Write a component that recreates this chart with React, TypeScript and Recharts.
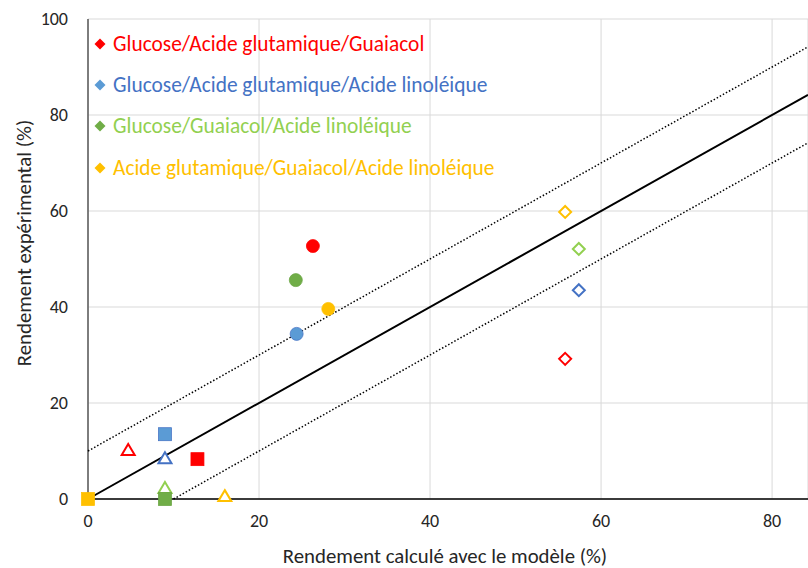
import React from 'react';
import { ScatterChart, Scatter, XAxis, YAxis, CartesianGrid, Legend, Label } from 'recharts';

// Marker kind of each point, in order
const markerKinds = ['triangle', 'square', 'circle', 'diamond'];

const seriesNames = [
  'Glucose/Acide glutamique/Guaiacol',
  'Glucose/Acide glutamique/Acide linoléique',
  'Glucose/Guaiacol/Acide linoléique',
  'Acide glutamique/Guaiacol/Acide linoléique',
];

// Rendement calculé (x) / expérimental (y)
const redX = [4.7, 12.8, 26.3, 55.8];
const redY = [10.2, 8.3, 52.7, 29.2];
const blueX = [9.0, 9.0, 24.4, 57.4];
const blueY = [8.5, 13.5, 34.4, 43.5];
const greenX = [9.0, 9.0, 24.3, 57.4];
const greenY = [2.3, 0, 45.6, 52.1];
const yellowX = [16.0, 0, 28.1, 55.8];
const yellowY = [0.6, 0, 39.6, 59.8];

// Reference lines y = x, y = x + 10, y = x - 10
const diagonal = [{ x: 0, y: 0 }, { x: 84.2, y: 84.2 }];
const upperBand = [{ x: 0, y: 10 }, { x: 84.2, y: 94.2 }];
const lowerBand = [{ x: 10, y: 0 }, { x: 84.2, y: 74.2 }];

const xTicks = [0, 20, 40, 60, 80];
const yTicks = [0, 20, 40, 60, 80, 100];

const FONT = 'Carlito, Lato, "Open Sans", sans-serif';

type Palette = { hollow: string; fill: string; edge: string; legend: string; text: string };

const palettes: Palette[] = [
  { hollow: '#FF0000', fill: '#FF0000', edge: '#FF0000', legend: '#FF0000', text: '#FF0000' },
  { hollow: '#4472C4', fill: '#5B9BD5', edge: '#4472C4', legend: '#5B9BD5', text: '#4472C4' },
  { hollow: '#92D050', fill: '#70AD47', edge: '#6AA443', legend: '#70AD47', text: '#92D050' },
  { hollow: '#FFC000', fill: '#FFC000', edge: '#FFC000', legend: '#FFC000', text: '#FFC000' },
];

const build = (xs: number[], ys: number[]) =>
  xs.map((x, i) => ({ x, y: ys[i], kind: markerKinds[i] }));

const seriesData = [
  build(redX, redY),
  build(blueX, blueY),
  build(greenX, greenY),
  build(yellowX, yellowY),
];

const makeShape = (p: Palette) => (props: any) => {
  const { cx, cy, payload } = props;
  if (cx == null || cy == null) return <g />;
  switch (payload.kind) {
    case 'triangle':
      return (
        <polygon
          points={`${cx},${cy - 6} ${cx + 6.5},${cy + 5} ${cx - 6.5},${cy + 5}`}
          fill="#fff"
          stroke={p.hollow}
          strokeWidth={2}
        />
      );
    case 'square':
      return <rect x={cx - 6.5} y={cy - 6.5} width={13} height={13} fill={p.fill} stroke={p.edge} strokeWidth={0.75} />;
    case 'circle':
      return <circle cx={cx} cy={cy} r={6.5} fill={p.fill} stroke={p.edge} strokeWidth={0.75} />;
    default:
      return (
        <polygon
          points={`${cx},${cy - 6} ${cx + 6},${cy} ${cx},${cy + 6} ${cx - 6},${cy}`}
          fill="#fff"
          stroke={p.hollow}
          strokeWidth={2}
        />
      );
  }
};

const emptyShape = () => <g />;

const LegendContent = () => (
  <div style={{ fontFamily: FONT, fontSize: 21.4 }}>
    {seriesNames.map((name, i) => (
      <div key={name} style={{ display: 'flex', alignItems: 'center', height: 41.3, whiteSpace: 'nowrap' }}>
        <svg width={12} height={12} style={{ marginRight: 7 }}>
          <polygon points="6,0.5 11.5,6 6,11.5 0.5,6" fill={palettes[i].legend} />
        </svg>
        <span style={{ color: palettes[i].text }}>{name}</span>
      </div>
    ))}
  </div>
);

export default function App() {
  return (
    <div style={{ position: 'absolute', left: 0, top: 0 }}>
      <ScatterChart width={808} height={568} margin={{ top: 19, right: 0, bottom: 0, left: 0 }}>
        <CartesianGrid stroke="#D9D9D9" strokeWidth={1} />
        <XAxis
          type="number"
          dataKey="x"
          domain={[0, 84.2]}
          ticks={xTicks}
          height={69}
          tickLine={false}
          tickSize={6}
          tickMargin={9}
          axisLine={{ stroke: '#000', strokeWidth: 1.5 }}
          tick={{ fill: '#262626', fontSize: 18, fontFamily: FONT }}
        >
          <Label
            content={() => (
              <text x={445} y={563} textAnchor="middle" fill="#262626" fontSize={20.8} fontFamily={FONT}>
                Rendement calculé avec le modèle (%)
              </text>
            )}
          />
        </XAxis>
        <YAxis
          type="number"
          dataKey="y"
          domain={[0, 100]}
          ticks={yTicks}
          width={88}
          tickLine={false}
          tickSize={6}
          tickMargin={14}
          axisLine={{ stroke: '#595959', strokeWidth: 1.5 }}
          tick={{ fill: '#262626', fontSize: 18, fontFamily: FONT }}
        >
          <Label
            content={() => (
              <text
                transform="translate(24,243) rotate(-90)"
                textAnchor="middle"
                dominantBaseline="central"
                fill="#262626"
                fontSize={20.8}
                fontFamily={FONT}
              >
                Rendement expérimental (%)
              </text>
            )}
          />
        </YAxis>
        <Legend
          layout="horizontal"
          verticalAlign="middle"
          align="center"
          wrapperStyle={{ left: 94, top: 23, width: 'auto' }}
          content={LegendContent}
        />
        <Scatter
          name="upper"
          data={upperBand}
          line={{ stroke: '#000', strokeWidth: 1.5, strokeDasharray: '1.5 2' }}
          shape={emptyShape}
          legendType="none"
          isAnimationActive={false}
        />
        <Scatter
          name="lower"
          data={lowerBand}
          line={{ stroke: '#000', strokeWidth: 1.5, strokeDasharray: '1.5 2' }}
          shape={emptyShape}
          legendType="none"
          isAnimationActive={false}
        />
        <Scatter
          name="diagonal"
          data={diagonal}
          line={{ stroke: '#000', strokeWidth: 2 }}
          shape={emptyShape}
          legendType="none"
          isAnimationActive={false}
        />
        {seriesData.map((d, i) => (
          <Scatter
            key={seriesNames[i]}
            name={seriesNames[i]}
            data={d}
            shape={makeShape(palettes[i])}
            isAnimationActive={false}
          />
        ))}
      </ScatterChart>
    </div>
  );
}
